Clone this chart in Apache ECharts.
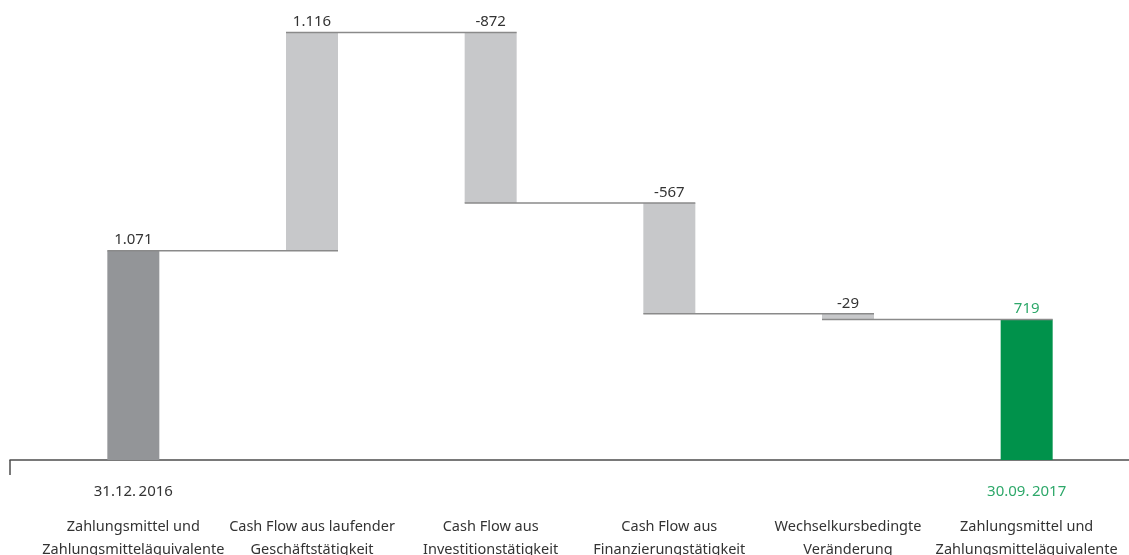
<!DOCTYPE html>
<html>
<head>
<meta charset="utf-8">
<script src="https://cdn.jsdelivr.net/npm/echarts@6/dist/echarts.min.js"></script>
<style>
html,body{margin:0;padding:0;background:#fff;}
#chart{width:1129px;height:555px;}
</style>
</head>
<body>
<div id="chart"></div>
<script>
// ---- data ----
const categoryLine1 = ['Zahlungsmittel und', 'Cash Flow aus laufender', 'Cash Flow aus', 'Cash Flow aus', 'Wechselkursbedingte', 'Zahlungsmittel und'];
const categoryLine2 = ['Zahlungsmitteläquivalente', 'Geschäftstätigkeit', 'Investitionstätigkeit', 'Finanzierungstätigkeit', 'Veränderung', 'Zahlungsmitteläquivalente'];
const dateLabels = ['31.12.\u20092016', '', '', '', '', '30.09.\u20092017'];
const startValue = 1071;
const changes = [1116, -872, -567, -29];
const endValue = 719;

// ---- build waterfall ----
const signed = [startValue].concat(changes).concat([endValue]);
const base = [], height = [], levels = [];
let run = startValue;
base.push(0); height.push(startValue); levels.push(run);
changes.forEach(c => {
  const next = run + c;
  base.push(Math.min(run, next));
  height.push(Math.abs(c));
  run = next;
  levels.push(run);
});
base.push(0); height.push(endValue);

const colorStart = '#939598', colorChange = '#c7c8ca', colorEnd = '#00924b';
const textDark = '#333333', textGreen = '#2ea86a';

function fmt(v) {
  const neg = v < 0;
  let s = String(Math.abs(v));
  s = s.replace(/\B(?=(\d{3})+(?!\d))/g, '.');
  return (neg ? '-' : '') + s;
}

const categories = categoryLine1.map((_, i) => i);
const BAR_W = 52;

const chart = echarts.init(document.getElementById('chart'));
chart.setOption({
  animation: false,
  textStyle: { fontFamily: 'Noto Sans' },
  grid: [
    { left: 44, right: 13, top: 30, bottom: 95, containLabel: false, outerBoundsMode: 'none' },
    { left: 10, right: -6, top: 30, bottom: 95, containLabel: false, outerBoundsMode: 'none' }
  ],
  xAxis: [
    {
      type: 'category', gridIndex: 0, data: categories,
      axisLine: { show: false }, axisTick: { show: false },
      axisLabel: {
        margin: 32,
        interval: 0,
        formatter: function (v, i) {
          const d = dateLabels[i];
          const first = d ? (i === dateLabels.length - 1 ? '{g|' + d + '}' : '{d|' + d + '}') : '{d|\u00a0}';
          return first + '\n{c|' + categoryLine1[i] + '}\n{c|' + categoryLine2[i] + '}';
        },
        rich: {
          d: { fontSize: 15, color: textDark, lineHeight: 23, padding: [0, 0, 24, 0], fontFamily: 'Noto Sans' },
          g: { fontSize: 15, color: textGreen, lineHeight: 23, padding: [0, 0, 24, 0], fontFamily: 'Noto Sans' },
          c: { fontSize: 14.5, color: textDark, lineHeight: 23, fontFamily: 'Noto Sans' }
        }
      }
    },
    {
      type: 'category', gridIndex: 1, data: [''], boundaryGap: true,
      axisLine: { show: true, lineStyle: { color: '#4d4d4d', width: 1.5 } },
      axisTick: { show: true, length: 15, lineStyle: { color: '#4d4d4d', width: 1.5 } },
      axisLabel: { show: false }
    }
  ],
  yAxis: [
    { type: 'value', gridIndex: 0, min: 0, max: 2200, show: false },
    { type: 'value', gridIndex: 1, min: 0, max: 2200, show: false }
  ],
  series: [
    {
      type: 'bar', stack: 'w', xAxisIndex: 0, yAxisIndex: 0,
      barWidth: BAR_W, silent: true,
      itemStyle: { color: 'transparent' },
      data: base
    },
    {
      type: 'bar', stack: 'w', xAxisIndex: 0, yAxisIndex: 0,
      barWidth: BAR_W, silent: true,
      data: height.map((h, i) => ({
        value: h,
        itemStyle: { color: i === 0 ? colorStart : (i === height.length - 1 ? colorEnd : colorChange) },
        label: { color: i === height.length - 1 ? textGreen : textDark }
      })),
      label: {
        show: true, position: 'top', distance: 3,
        fontSize: 15, fontFamily: 'Noto Sans',
        formatter: p => fmt(signed[p.dataIndex])
      }
    },
    {
      type: 'custom', xAxisIndex: 0, yAxisIndex: 0, silent: true, z: 5,
      data: levels.map((lv, k) => [k, lv]),
      renderItem: function (params, api) {
        const k = api.value(0), lv = api.value(1);
        const p1 = api.coord([k, lv]);
        const p2 = api.coord([k + 1, lv]);
        return {
          type: 'line',
          shape: { x1: p1[0] - BAR_W / 2, y1: p1[1], x2: p2[0] + BAR_W / 2, y2: p2[1] },
          style: { stroke: '#8a8a8a', lineWidth: 1.5 }
        };
      }
    }
  ]
});
</script>
</body>
</html>
